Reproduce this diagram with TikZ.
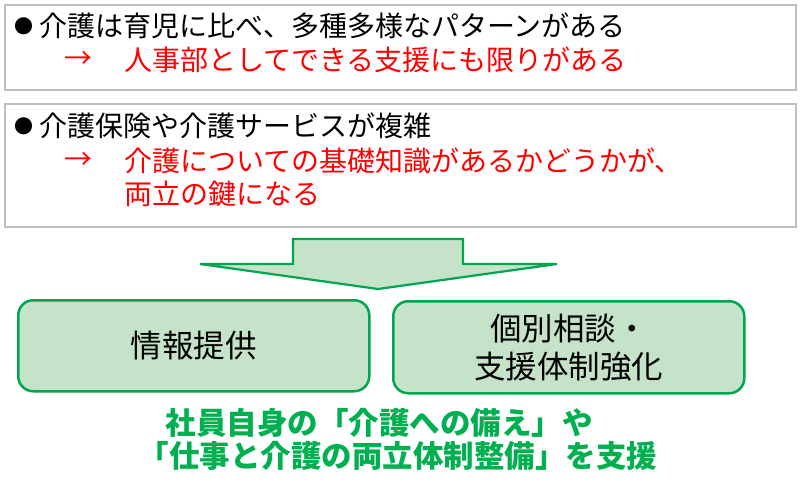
\documentclass[tikz,border=0pt]{standalone}
\usepackage{fontspec}
\setmainfont{Noto Sans CJK JP}
\definecolor{gborder}{HTML}{00A54F}
\definecolor{gfill}{HTML}{C5E3C9}
\definecolor{gtext}{HTML}{00B050}
\definecolor{boxgray}{HTML}{BFBFBF}
\definecolor{redtext}{HTML}{FF0000}
\tikzset{
  graybox/.style={draw=boxgray, line width=1.5pt, fill=white, inner sep=0pt, anchor=north west},
  txt/.style={inner sep=0pt, anchor=west, font=\fontsize{28}{33}\selectfont},
  redtxt/.style={txt, text=redtext},
  bul/.style={inner sep=0pt, anchor=west, font=\fontsize{19}{20}\selectfont},
  gbox/.style={draw=gborder, fill=gfill, line width=2.5pt, rounded corners=15pt, inner sep=0pt, anchor=north west, align=center, font=\fontsize{31.5}{38}\selectfont},
  bigarrow/.style={draw=gborder, fill=gfill, line width=2.2pt, line join=miter},
  gtxt/.style={inner sep=0pt, text=gtext, font=\fontsize{30.5}{32}\selectfont\bfseries}
}
\begin{document}
\begin{tikzpicture}[x=1pt,y=-1pt]
\useasboundingbox (0,0) rectangle (800,483);
% top boxes
\node[graybox, minimum width=791pt, minimum height=85pt] (box1) at (4,4) {};
\node[bul] (bul1) at (14,26) {●};
\node[txt] (t1) at (39,26) {介護は育児に比べ、多種多様なパターンがある};
\node[redtxt] (a1) at (64,60) {→};
\node[redtxt] (t2) at (124,60) {人事部としてできる支援にも限りがある};
\node[graybox, minimum width=791pt, minimum height=123pt] (box2) at (4,103) {};
\node[bul] (bul2) at (14,126) {●};
\node[txt] (t3) at (39,126) {介護保険や介護サービスが複雑};
\node[redtxt] (a2) at (64,161) {→};
\node[redtxt] (t4) at (124,161) {介護についての基礎知識があるかどうかが、};
\node[redtxt] (t5) at (124,194) {両立の鍵になる};
% big arrow
\draw[bigarrow] (293,239) -- (463,239) -- (463,264) -- (557,264) -- (378,289) -- (200,264) -- (293,264) -- cycle;
% rounded boxes
\node[gbox, minimum width=351pt, minimum height=91pt] (info) at (17,299) {情報提供};
\node[gbox, minimum width=351pt, minimum height=92pt] (consult) at (392,300) {個別相談・\\支援体制強化};
% bottom text
\node[gtxt] (goal1) at (379,423) {社員自身の「介護への備え」や};
\node[gtxt] (goal2) at (398,456) {「仕事と介護の両立体制整備」を支援};
\end{tikzpicture}
\end{document}
